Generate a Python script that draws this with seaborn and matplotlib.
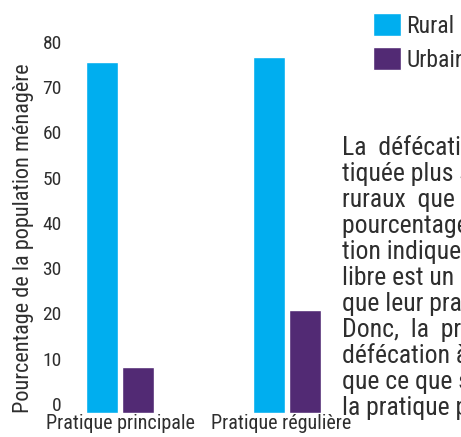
import matplotlib
matplotlib.use('Agg')
import matplotlib.pyplot as plt
import matplotlib.transforms as mtransforms
from matplotlib import font_manager
import pandas as pd
import seaborn as sns

categories = ['Pratique principale', 'Pratique régulière']
groups = ['Rural', 'Urbain']
rural = [75.6, 76.7]
urbain = [8.2, 20.8]
yticks = [0, 10, 20, 30, 40, 50, 60, 70, 80]
note_lines = [
    'La  défécation  à  l\'air  libre  est  pra-',
    'tiquée plus souvent par les ménages',
    'ruraux  que  par  les  ménages  urbains.',
    'pourcentage de pratique régulière de défé-',
    'tion indique que la défécation à l\'air',
    'libre est un peu plus courante',
    'que leur pratique principale.',
    'Donc,  la  pratique  régulière  de  la',
    'défécation à l\'air libre est plus élevée',
    'que ce que suggère',
    'la pratique principale.',
]

df = pd.DataFrame({
    'cat': categories * 2,
    'zone': [groups[0]] * 2 + [groups[1]] * 2,
    'val': rural + urbain,
})

sns.set_style('white')
# condensed face if one is around
names = {f.name for f in font_manager.fontManager.ttflist}
fam = 'DejaVu Sans'
for cand in ['Liberation Sans Narrow', 'Roboto Condensed', 'Open Sans Condensed']:
    if cand in names:
        fam = cand
        break
plt.rcParams['font.family'] = [fam, 'DejaVu Sans']
if fam == 'DejaVu Sans':
    plt.rcParams['font.stretch'] = 'condensed'
txt = '#2e2e2e'

W, H = 461, 437
fig = plt.figure(figsize=(W / 100, H / 100), dpi=100)
ax = fig.add_axes([70 / W, 24 / H, 270 / W, 371 / H])
sns.barplot(data=df, x='cat', y='val', hue='zone', ax=ax,
            palette=['#00AEEF', '#522A74'], width=0.43, gap=0.11,
            saturation=1)
# bars sit a little below the zero line, as in the original
for p in ax.patches:
    p.set_y(-2)
    p.set_height(p.get_height() + 2)
ax.set_xlim(-0.299, 1.317)
ax.set_ylim(-2, 80)
ax.set_yticks(yticks)
sns.despine(ax=ax, left=True, bottom=True)
ax.tick_params(length=0, colors=txt)
ax.tick_params(axis='y', pad=6, labelsize=14)
ax.tick_params(axis='x', pad=1, labelsize=14.5)
# second category label sits a bit left of its bars
xl = ax.get_xticklabels()
xl[1].set_transform(xl[1].get_transform() +
                    mtransforms.ScaledTranslation(-0.06, 0, fig.dpi_scale_trans))
ax.set_xlabel('')
ax.set_ylabel('Pourcentage de la population ménagère', fontsize=16, color=txt)
ax.yaxis.set_label_coords(-0.135, 0.47)

handles, labels = ax.get_legend_handles_labels()
ax.legend_.remove()
fig.legend(handles, labels, loc='upper left', frameon=False,
           bbox_to_anchor=(373 / W, 1 - 13 / H), bbox_transform=fig.transFigure,
           borderpad=0, borderaxespad=0, handlelength=1.2, handleheight=1.12,
           labelspacing=0.42, handletextpad=0.22, fontsize=17, labelcolor=txt)

for i, line in enumerate(note_lines):
    fig.text(342 / W, 1 - (148 + 26 * i) / H, line, fontsize=18.5,
             color=txt, va='center', ha='left')

fig.savefig('out.png', dpi=100)
